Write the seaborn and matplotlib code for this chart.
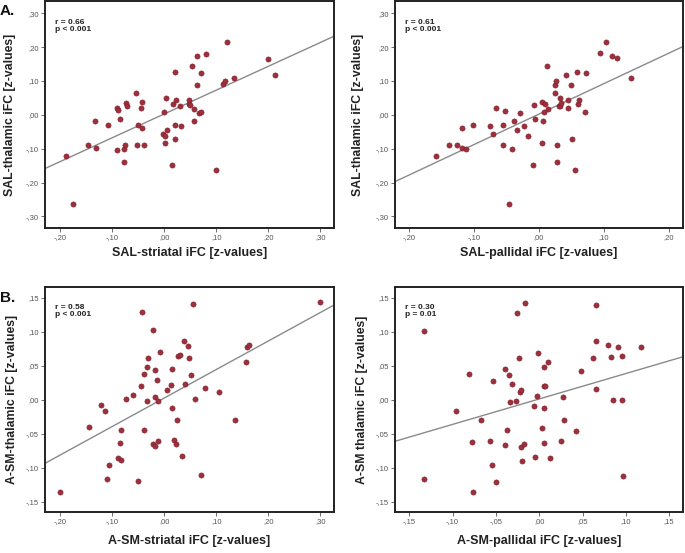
import numpy as np
import pandas as pd
import seaborn as sns
import matplotlib
matplotlib.use("Agg")
import matplotlib.pyplot as plt
from matplotlib.ticker import FuncFormatter, MultipleLocator

# ---------------- data ----------------
sal_striatal = [-0.188, -0.176, -0.146, -0.133, -0.131, -0.108, -0.090, -0.088, -0.085, -0.090,
                -0.078, -0.077, -0.075, -0.074, -0.071, -0.055, -0.051, -0.052, -0.045, -0.043,
                -0.042, -0.039, -0.003, 0.000, 0.002, 0.002, 0.004, 0.006, 0.015, 0.016,
                0.020, 0.020, 0.021, 0.022, 0.031, 0.032, 0.048, 0.048, 0.050, 0.054,
                0.057, 0.058, 0.063, 0.063, 0.066, 0.070, 0.071, 0.080, 0.100, 0.113,
                0.116, 0.121, 0.133, 0.200, 0.212]
sal_thal_a = [-0.121, -0.263, -0.090, -0.018, -0.098, -0.031, 0.021, 0.013, -0.011, -0.103,
              -0.102, -0.138, -0.088, 0.036, 0.027, 0.065, -0.031, -0.090, 0.020, 0.039,
              -0.038, -0.088, -0.056, 0.007, -0.062, -0.084, 0.051, -0.044, -0.147, 0.031,
              0.126, -0.070, -0.031, 0.044, 0.026, -0.032, 0.044, 0.031, 0.029, 0.145,
              0.017, -0.018, 0.173, 0.088, 0.004, 0.124, 0.007, 0.181, -0.164, 0.090,
              0.100, 0.214, 0.108, 0.166, 0.117]

sal_pallidal = [-0.159, -0.138, -0.127, -0.119, -0.119, -0.112, -0.102, -0.075, -0.071, -0.066,
                -0.056, -0.056, -0.052, -0.046, -0.042, -0.039, -0.034, -0.030, -0.023, -0.017,
                -0.009, -0.008, -0.006, 0.005, 0.005, 0.006, 0.007, 0.010, 0.013, 0.014,
                0.025, 0.025, 0.026, 0.027, 0.028, 0.031, 0.032, 0.033, 0.034, 0.041,
                0.045, 0.045, 0.050, 0.051, 0.055, 0.058, 0.060, 0.062, 0.071, 0.073,
                0.094, 0.103, 0.112, 0.120, 0.142]
sal_thal_b = [-0.121, -0.090, -0.088, -0.099, -0.038, -0.102, -0.031, -0.032, -0.056, 0.020,
              -0.031, -0.088, 0.012, -0.264, -0.102, -0.018, -0.045, 0.004, -0.032, -0.062,
              -0.147, 0.029, -0.011, 0.039, -0.084, -0.018, 0.007, 0.031, 0.145, 0.017,
              0.065, 0.088, 0.100, -0.090, -0.138, 0.026, 0.026, 0.051, 0.036, 0.117,
              0.044, 0.020, 0.089, -0.070, -0.164, 0.125, 0.031, 0.044, 0.007, 0.124,
              0.182, 0.215, 0.174, 0.167, 0.108]

asm_striatal = [-0.200, -0.144, -0.121, -0.114, -0.110, -0.107, -0.088, -0.084, -0.085, -0.084,
                -0.074, -0.060, -0.051, -0.044, -0.043, -0.039, -0.039, -0.034, -0.033, -0.032,
                -0.022, -0.021, -0.018, -0.018, -0.017, -0.013, -0.012, -0.012, -0.009, 0.006,
                0.013, 0.014, 0.014, 0.018, 0.022, 0.024, 0.026, 0.030, 0.035, 0.037,
                0.039, 0.046, 0.047, 0.052, 0.055, 0.060, 0.071, 0.079, 0.106, 0.136,
                0.157, 0.159, 0.162, 0.299]
asm_thal_a = [-0.136, -0.040, -0.008, -0.016, -0.116, -0.096, -0.086, -0.089, -0.064, -0.045,
              0.001, 0.007, -0.120, 0.020, 0.129, 0.038, -0.045, -0.002, 0.048, 0.062,
              0.103, -0.065, -0.068, 0.044, 0.004, 0.029, -0.001, -0.061, 0.070, 0.014,
              0.022, 0.046, -0.012, -0.059, -0.065, -0.030, 0.064, 0.066, -0.083, 0.087,
              0.023, 0.079, 0.062, 0.037, 0.141, 0.001, -0.111, 0.017, 0.011, -0.029,
              0.055, 0.078, 0.081, 0.144]

asm_pallidal = [-0.133, -0.133, -0.096, -0.081, -0.078, -0.076, -0.067, -0.057, -0.054, -0.053,
                -0.050, -0.039, -0.039, -0.037, -0.035, -0.034, -0.031, -0.027, -0.026, -0.023,
                -0.022, -0.021, -0.021, -0.020, -0.018, -0.016, -0.006, -0.005, -0.003, -0.001,
                0.003, 0.005, 0.005, 0.005, 0.006, 0.007, 0.010, 0.013, 0.025, 0.027,
                0.029, 0.042, 0.048, 0.062, 0.066, 0.065, 0.065, 0.079, 0.083, 0.085,
                0.091, 0.095, 0.096, 0.097, 0.118]
asm_thal_b = [0.102, -0.117, -0.016, 0.038, -0.062, -0.136, -0.030, -0.061, -0.096, 0.028,
              -0.121, -0.066, 0.046, -0.045, 0.036, -0.003, 0.023, -0.002, 0.128, 0.061,
              0.011, 0.014, -0.069, -0.090, -0.065, 0.143, -0.009, -0.084, 0.006, 0.069,
              -0.041, -0.012, -0.063, 0.048, 0.021, 0.021, 0.055, -0.086, -0.060, 0.004,
              -0.030, -0.046, 0.043, 0.061, 0.086, 0.140, 0.016, 0.081, 0.063, 0.000,
              0.078, 0.000, 0.065, -0.112, 0.078]

stats_text = ["r = 0.66\np < 0.001", "r = 0.61\np < 0.001",
              "r = 0.58\np < 0.001", "r = 0.30\np = 0.01"]
x_labels = ["SAL-striatal iFC [z-values]", "SAL-pallidal iFC [z-values]",
            "A-SM-striatal iFC [z-values]", "A-SM-pallidal iFC [z-values]"]
y_labels = ["SAL-thalamic iFC [z-values]", "SAL-thalamic iFC [z-values]",
            "A-SM-thalamic iFC [z-values]", "A-SM thalamic iFC [z-values]"]
panel_letters = ["A.", "B."]

panels = [
    (sal_striatal, sal_thal_a),
    (sal_pallidal, sal_thal_b),
    (asm_striatal, asm_thal_a),
    (asm_pallidal, asm_thal_b),
]

# ---------------- style ----------------
sns.set_style("white")
plt.rcParams['font.family'] = ['Liberation Sans', 'DejaVu Sans']

W, H = 685, 553
fig = plt.figure(figsize=(W / 100, H / 100), dpi=100)

# (left, top, right, bottom) in pixels
boxes = [(45, 1, 334, 228), (395, 1, 683, 228),
         (45, 287, 334, 512), (395, 287, 683, 512)]
xlims = [(-0.229, 0.326), (-0.222, 0.222), (-0.229, 0.326), (-0.1665, 0.166)]
ylims = [(-0.334, 0.336), (-0.334, 0.336), (-0.165, 0.166), (-0.165, 0.166)]
xsteps = [0.10, 0.10, 0.10, 0.05]
ysteps = [0.10, 0.10, 0.05, 0.05]
ylab_x = [-0.100, -0.107, -0.093, -0.093]
xlab_y = [-0.084, -0.084, -0.102, -0.102]
stat_y = [0.922, 0.922, 0.925, 0.925]


def fmt(v, pos):
    s = f"{v:.2f}"
    if s in ("-0.00",):
        s = "0.00"
    if s.startswith("-0."):
        return "-," + s[3:]
    if s.startswith("0."):
        return "," + s[2:]
    return s.replace(".", ",")


marker_color = "#9e2f3c"
for i, ((xv, yv), (l, t, r, b)) in enumerate(zip(panels, boxes)):
    ax = fig.add_axes([l / W, 1 - b / H, (r - l) / W, (b - t) / H])
    df = pd.DataFrame({"x": xv, "y": yv})
    ax.set_xlim(*xlims[i])
    ax.set_ylim(*ylims[i])
    sns.regplot(data=df, x="x", y="y", ax=ax, ci=None, truncate=False,
                scatter_kws=dict(s=14, color=marker_color, edgecolor="#7a1f2a",
                                 linewidths=0.4, alpha=1, zorder=3),
                line_kws=dict(color="#8a8a8a", lw=1.0, zorder=2))
    ax.set_xlim(*xlims[i])
    ax.set_ylim(*ylims[i])
    ax.xaxis.set_major_locator(MultipleLocator(xsteps[i]))
    ax.yaxis.set_major_locator(MultipleLocator(ysteps[i]))
    ax.xaxis.set_major_formatter(FuncFormatter(fmt))
    ax.yaxis.set_major_formatter(FuncFormatter(fmt))
    ax.tick_params(axis="both", direction="out", length=3, width=0.6,
                   color="#555555", labelsize=5.5, labelcolor="#555555", pad=1.5,
                   bottom=True, left=True)
    for sp in ax.spines.values():
        sp.set_visible(True)
        sp.set_color("#222222")
        sp.set_linewidth(1.4)
    ax.set_xlabel(x_labels[i], fontsize=9, fontweight="bold", color="#222222")
    ax.set_ylabel(y_labels[i], fontsize=8.8, fontweight="bold", color="#222222")
    ax.yaxis.set_label_coords(ylab_x[i], 0.5)
    ax.xaxis.set_label_coords(0.5, xlab_y[i])
    ax.text(0.035, stat_y[i], stats_text[i], transform=ax.transAxes,
            fontsize=6, fontweight="bold", color="#222222", va="top", ha="left",
            linespacing=1.05)

fig.text(0 / W, 1 - 11 / H, panel_letters[0], fontsize=11, fontweight="bold",
         color="#111111", ha="left", va="center")
fig.text(0 / W, 1 - 298 / H, panel_letters[1], fontsize=11, fontweight="bold",
         color="#111111", ha="left", va="center")

fig.savefig("out.png", dpi=100)
